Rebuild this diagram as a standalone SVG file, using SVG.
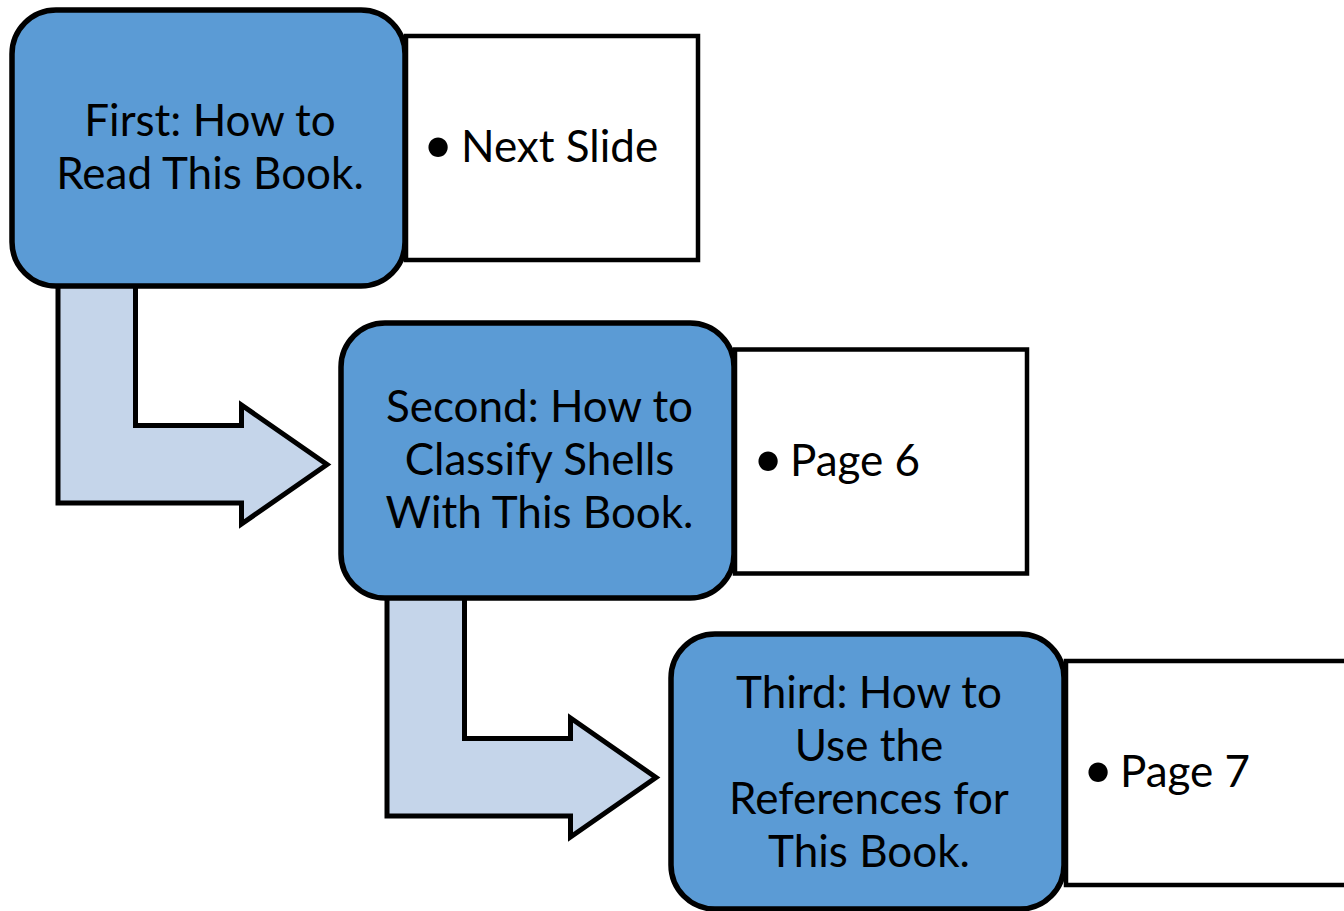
<svg xmlns="http://www.w3.org/2000/svg" width="1344" height="911" viewBox="0 0 1344 911">
  <style>
    .step { fill: #5B9BD5; stroke: #000; stroke-width: 5.5; }
    .note { fill: #FFFFFF; stroke: #000; stroke-width: 4.5; }
    .bend { fill: #C5D5EA; stroke: #000; stroke-width: 5; stroke-linejoin: miter; }
    .label { font-family: Lato, "Open Sans", sans-serif; font-size: 44px; fill: #000; text-anchor: middle; }
    .bullet { font-family: Lato, "Open Sans", sans-serif; font-size: 44px; fill: #000; }
    .dot { font-size: 52px; }
  </style>
  <rect width="1344" height="911" fill="#FFFFFF"/>

  <!-- bent arrows leading from one step down into the next -->
  <g id="connectors">
    <path class="bend" d="M58,280 L135.5,280 L135.5,425.5 L241.5,425.5 L241.5,405 L327,464.5 L241.5,524 L241.5,503 L58,503 Z"/>
    <path class="bend" d="M387,593 L464.5,593 L464.5,738.5 L570.5,738.5 L570.5,718 L656,777.5 L570.5,837 L570.5,816 L387,816 Z"/>
  </g>

  <!-- step 1 -->
  <g id="note1">
    <rect class="note" x="406" y="36" width="292" height="224"/>
    <text class="bullet" y="162"><tspan class="dot" x="423" dy="1">•</tspan><tspan x="461" dy="-1">Next Slide</tspan></text>
  </g>
  <g id="step1">
    <rect class="step" x="12" y="10" width="393" height="276" rx="44" ry="44"/>
    <text class="label" x="210" y="136">First: How to</text>
    <text class="label" x="210" y="189">Read This Book.</text>
  </g>

  <!-- step 2 -->
  <g id="note2">
    <rect class="note" x="735" y="349.5" width="292" height="224"/>
    <text class="bullet" y="476"><tspan class="dot" x="753" dy="1">•</tspan><tspan x="790" dy="-1">Page 6</tspan></text>
  </g>
  <g id="step2">
    <rect class="step" x="341" y="323" width="393" height="275" rx="44" ry="44"/>
    <text class="label" x="539.5" y="422">Second: How to</text>
    <text class="label" x="539.5" y="475">Classify Shells</text>
    <text class="label" x="539.5" y="528">With This Book.</text>
  </g>

  <!-- step 3 -->
  <g id="note3">
    <rect class="note" x="1066" y="661" width="300" height="224"/>
    <text class="bullet" y="787"><tspan class="dot" x="1083" dy="1">•</tspan><tspan x="1120" dy="-1">Page 7</tspan></text>
  </g>
  <g id="step3">
    <rect class="step" x="671" y="634" width="393" height="275" rx="44" ry="44"/>
    <text class="label" x="869" y="708">Third: How to</text>
    <text class="label" x="869" y="761">Use the</text>
    <text class="label" x="869" y="814">References for</text>
    <text class="label" x="869" y="867">This Book.</text>
  </g>
</svg>
